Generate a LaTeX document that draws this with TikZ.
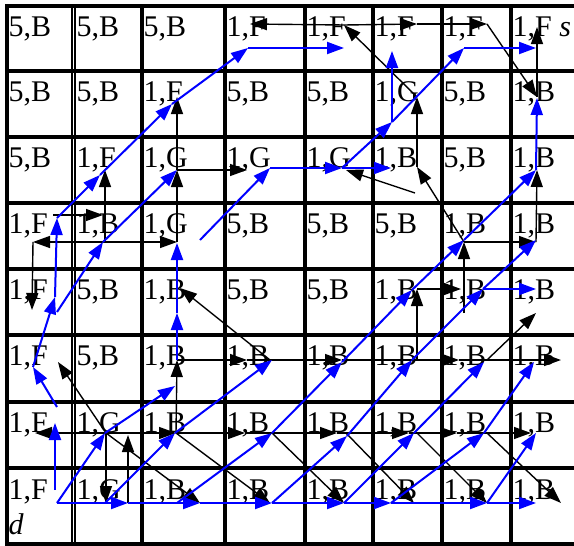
\documentclass[tikz,border=0pt]{standalone}
\usepackage{fontspec}
\setmainfont{Liberation Serif}
\usetikzlibrary{arrows.meta}

\begin{document}
\begin{tikzpicture}[x=1pt,y=-1pt,
  lab/.style={anchor=base west,inner sep=0pt,font=\fontsize{30}{30}\selectfont},
  gridline/.style={line width=4pt},
  kar/.style={-{Triangle[length=17pt,width=12pt]},line width=1.4pt},
  bar/.style={-{Triangle[length=17pt,width=12pt]},line width=2pt,blue}]
\useasboundingbox (0,0) rectangle (574,546);
% grid
\draw[gridline] (5,6) -- (574,6);
\draw[gridline] (5,71) -- (574,71);
\draw[gridline] (5,137) -- (574,137);
\draw[gridline] (5,203) -- (574,203);
\draw[gridline] (5,269) -- (574,269);
\draw[gridline] (5,335) -- (574,335);
\draw[gridline] (5,402) -- (574,402);
\draw[gridline] (5,468) -- (574,468);
\draw[gridline] (5,544) -- (574,544);
\draw[gridline] (7,4) -- (7,546);
\draw[gridline] (142,4) -- (142,546);
\draw[gridline] (225,4) -- (225,546);
\draw[gridline] (305,4) -- (305,546);
\draw[gridline] (373,4) -- (373,546);
\draw[gridline] (442,4) -- (442,546);
\draw[gridline] (511,4) -- (511,546);
\draw[line width=2pt] (71.7,4) -- (71.7,546);
\draw[line width=2pt] (75,4) -- (75,546);

% row 0
\node[lab] at (8.5,36.5) (n00) {5,B};
\node[lab] at (76.5,36.5) (n01) {5,B};
\node[lab] at (143.5,36.5) (n02) {5,B};
\node[lab] at (226.5,36.5) (n03) {1,F};
\node[lab] at (306.5,36.5) (n04) {1,F};
\node[lab] at (374.5,36.5) (n05) {1,F};
\node[lab] at (443.5,36.5) (n06) {1,F};
\node[lab] at (512.5,36.5) (n07) {1,F \textit{s}};
% row 1
\node[lab] at (8.5,101.5) (n10) {5,B};
\node[lab] at (76.5,101.5) (n11) {5,B};
\node[lab] at (143.5,101.5) (n12) {1,F};
\node[lab] at (226.5,101.5) (n13) {5,B};
\node[lab] at (306.5,101.5) (n14) {5,B};
\node[lab] at (374.5,101.5) (n15) {1,G};
\node[lab] at (443.5,101.5) (n16) {5,B};
\node[lab] at (512.5,101.5) (n17) {1,B};
% row 2
\node[lab] at (8.5,167.5) (n20) {5,B};
\node[lab] at (76.5,167.5) (n21) {1,F};
\node[lab] at (143.5,167.5) (n22) {1,G};
\node[lab] at (226.5,167.5) (n23) {1,G};
\node[lab] at (306.5,167.5) (n24) {1,G};
\node[lab] at (374.5,167.5) (n25) {1,B};
\node[lab] at (443.5,167.5) (n26) {5,B};
\node[lab] at (512.5,167.5) (n27) {1,B};
% row 3
\node[lab] at (8.5,233.5) (n30) {1,F};
\node[lab] at (76.5,233.5) (n31) {1,B};
\node[lab] at (143.5,233.5) (n32) {1,G};
\node[lab] at (226.5,233.5) (n33) {5,B};
\node[lab] at (306.5,233.5) (n34) {5,B};
\node[lab] at (374.5,233.5) (n35) {5,B};
\node[lab] at (443.5,233.5) (n36) {1,B};
\node[lab] at (512.5,233.5) (n37) {1,B};
% row 4
\node[lab] at (8.5,299.5) (n40) {1,F};
\node[lab] at (76.5,299.5) (n41) {5,B};
\node[lab] at (143.5,299.5) (n42) {1,B};
\node[lab] at (226.5,299.5) (n43) {5,B};
\node[lab] at (306.5,299.5) (n44) {5,B};
\node[lab] at (374.5,299.5) (n45) {1,B};
\node[lab] at (443.5,299.5) (n46) {1,B};
\node[lab] at (512.5,299.5) (n47) {1,B};
% row 5
\node[lab] at (8.5,365.5) (n50) {1,F};
\node[lab] at (76.5,365.5) (n51) {5,B};
\node[lab] at (143.5,365.5) (n52) {1,B};
\node[lab] at (226.5,365.5) (n53) {1,B};
\node[lab] at (306.5,365.5) (n54) {1,B};
\node[lab] at (374.5,365.5) (n55) {1,B};
\node[lab] at (443.5,365.5) (n56) {1,B};
\node[lab] at (512.5,365.5) (n57) {1,B};
% row 6
\node[lab] at (8.5,432) (n60) {1,F};
\node[lab] at (76.5,432) (n61) {1,G};
\node[lab] at (143.5,432) (n62) {1,B};
\node[lab] at (226.5,432) (n63) {1,B};
\node[lab] at (306.5,432) (n64) {1,B};
\node[lab] at (374.5,432) (n65) {1,B};
\node[lab] at (443.5,432) (n66) {1,B};
\node[lab] at (512.5,432) (n67) {1,B};
% row 7
\node[lab] at (8.5,499) (n70) {1,F};
\node[lab] at (76.5,499) (n71) {1,G};
\node[lab] at (143.5,499) (n72) {1,B};
\node[lab] at (226.5,499) (n73) {1,B};
\node[lab] at (306.5,499) (n74) {1,B};
\node[lab] at (374.5,499) (n75) {1,B};
\node[lab] at (443.5,499) (n76) {1,B};
\node[lab] at (512.5,499) (n77) {1,B};
\node[lab] at (8.5,534) (dd) {\textit{d}};

% black points
\coordinate (k03) at (250,24);
\coordinate (k04) at (344,25);
\coordinate (k05) at (417,24);
\coordinate (k06) at (487,24);
\coordinate (k07) at (537,27);
\coordinate (k12) at (177,97);
\coordinate (k15) at (417,97);
\coordinate (k17) at (537,97);
\coordinate (k21) at (105,170);
\coordinate (k22) at (177,170);
\coordinate (k23) at (247,170);
\coordinate (k24) at (346,170);
\coordinate (k25) at (417,167);
\coordinate (k25a) at (415,193);
\coordinate (k27) at (537,170);
\coordinate (k30) at (53,215);
\coordinate (k30a) at (33,242);
\coordinate (k31) at (103,215);
\coordinate (k31a) at (105,242);
\coordinate (k32) at (177,242);
\coordinate (k36) at (464,242);
\coordinate (k37) at (536,242);
\coordinate (k40) at (32,310);
\coordinate (k42) at (180,288);
\coordinate (k45) at (417,289);
\coordinate (k46) at (461,289);
\coordinate (k46a) at (464,313);
\coordinate (k47) at (536,313);
\coordinate (k50) at (58,362);
\coordinate (k52) at (177,360);
\coordinate (k53) at (247,360);
\coordinate (k53a) at (270,360);
\coordinate (k54) at (342,360);
\coordinate (k55) at (417,360);
\coordinate (k56) at (459,360);
\coordinate (k56a) at (487,360);
\coordinate (k57) at (561,360);
\coordinate (k60) at (35,433);
\coordinate (k61) at (106,433);
\coordinate (k61a) at (128,435);
\coordinate (k62) at (176,433);
\coordinate (k63) at (245,433);
\coordinate (k63a) at (272,433);
\coordinate (k64) at (337,433);
\coordinate (k64a) at (346,433);
\coordinate (k65) at (409,433);
\coordinate (k65a) at (417,433);
\coordinate (k66) at (457,433);
\coordinate (k66a) at (487,433);
\coordinate (k67) at (531,433);
\coordinate (k71) at (106,503);
\coordinate (k71a) at (128,503);
\coordinate (k72) at (200,503);
\coordinate (k73) at (270,503);
\coordinate (k74) at (344,503);
\coordinate (k75) at (414,503);
\coordinate (k76) at (487,503);
\coordinate (k77) at (561,503);

% blue points
\coordinate (b03) at (248,48);
\coordinate (b04) at (344,48);
\coordinate (b05) at (392,51);
\coordinate (b06) at (464,48);
\coordinate (b07) at (536,48);
\coordinate (b12) at (172,104);
\coordinate (b15) at (392,122);
\coordinate (b17) at (537,98);
\coordinate (b21) at (100,175);
\coordinate (b22) at (177,170);
\coordinate (b23) at (270,168);
\coordinate (b24) at (342,168);
\coordinate (b25) at (391,168);
\coordinate (b27) at (536,170);
\coordinate (b30) at (57,218);
\coordinate (b31) at (103,242);
\coordinate (b32) at (177,243);
\coordinate (b32a) at (200,240);
\coordinate (b36) at (464,240);
\coordinate (b37) at (536,240);
\coordinate (b40) at (55,297);
\coordinate (b40a) at (57,312);
\coordinate (b42) at (177,313);
\coordinate (b45) at (412,290);
\coordinate (b46) at (483,289);
\coordinate (b47) at (536,289);
\coordinate (b50) at (33,367);
\coordinate (b52) at (175,386);
\coordinate (b52a) at (177,360);
\coordinate (b53) at (272,360);
\coordinate (b54) at (342,362);
\coordinate (b55) at (412,360);
\coordinate (b56) at (484,362);
\coordinate (b57) at (534,362);
\coordinate (b60) at (55,423);
\coordinate (b60a) at (57,407);
\coordinate (b61) at (105,433);
\coordinate (b62) at (175,433);
\coordinate (b63) at (272,433);
\coordinate (b64) at (347,436);
\coordinate (b65) at (414,433);
\coordinate (b66) at (484,433);
\coordinate (b67) at (536,433);
\coordinate (b70) at (57,503);
\coordinate (b70a) at (55,490);
\coordinate (b71) at (128,503);
\coordinate (b71a) at (105,503);
\coordinate (b72) at (200,503);
\coordinate (b72a) at (177,503);
\coordinate (b73) at (272,503);
\coordinate (b74) at (344,503);
\coordinate (b75) at (391,503);
\coordinate (b76) at (487,503);
\coordinate (b77) at (536,503);

% black arrows
\draw[kar] (k04) -- (k03);
\draw[kar] (k04) -- (k05);
\draw[kar] (k05) -- (k06);
\draw[kar] (k06) -- (k17);
\draw[kar] (k17) -- (k07);
\draw[kar] (k15) -- (k04);
\draw[kar] (k25) -- (k15);
\draw[kar] (k36) -- (k25);
\draw[kar] (k25a) -- (k24);
\draw[kar] (k22) -- (k12);
\draw[kar] (k22) -- (k23);
\draw[kar] (k32) -- (k22);
\draw[kar] (k31a) -- (k32);
\draw[kar] (k31a) -- (k30a);
\draw[kar] (k31a) -- (k21);
\draw[kar] (k30) -- (k31);
\draw[kar] (k30a) -- (k40);
\draw[kar] (k37) -- (k27);
\draw[kar] (k36) -- (k37);
\draw[kar] (k46a) -- (k36);
\draw[kar] (k45) -- (k46);
\draw[kar] (k55) -- (k45);
\draw[kar] (k53a) -- (k42);
\draw[kar] (k52) -- (k53);
\draw[kar] (k53) -- (k54);
\draw[kar] (k54) -- (k56);
\draw[kar] (k56) -- (k57);
\draw[kar] (k56a) -- (k47);
\draw[kar] (k62) -- (k52);
\draw[kar] (k61) -- (k50);
\draw[kar] (k61) -- (k60);
\draw[kar] (k61) -- (k62);
\draw[kar] (k62) -- (k63);
\draw[kar] (k63) -- (k64);
\draw[kar] (k64) -- (k65);
\draw[kar] (k65) -- (k66);
\draw[kar] (k66) -- (k67);
\draw[kar] (k61) -- (k71);
\draw[kar] (k71a) -- (k61a);
\draw[kar] (k61) -- (k72);
\draw[kar] (k62) -- (k73);
\draw[kar] (k63a) -- (k74);
\draw[kar] (k64a) -- (k75);
\draw[kar] (k65a) -- (k76);
\draw[kar] (k66a) -- (k77);

% blue arrows
\draw[bar] (b70) -- (b71);
\draw[bar] (b71) -- (b72);
\draw[bar] (b72) -- (b73);
\draw[bar] (b73) -- (b74);
\draw[bar] (b74) -- (b75);
\draw[bar] (b75) -- (b76);
\draw[bar] (b76) -- (b77);
\draw[bar] (b70a) -- (b60);
\draw[bar] (b60a) -- (b50);
\draw[bar] (b50) -- (b40);
\draw[bar] (b40) -- (b30);
\draw[bar] (b30) -- (b21);
\draw[bar] (b21) -- (b12);
\draw[bar] (b12) -- (b03);
\draw[bar] (b03) -- (b04);
\draw[bar] (b40a) -- (b31);
\draw[bar] (b31) -- (b22);
\draw[bar] (b52a) -- (b42);
\draw[bar] (b42) -- (b32);
\draw[bar] (b32a) -- (b23);
\draw[bar] (b23) -- (b24);
\draw[bar] (b24) -- (b25);
\draw[bar] (b24) -- (b15);
\draw[bar] (b15) -- (b05);
\draw[bar] (b15) -- (b06);
\draw[bar] (b06) -- (b07);
\draw[bar] (b70) -- (b61);
\draw[bar] (b61) -- (b52);
\draw[bar] (b71a) -- (b62);
\draw[bar] (b62) -- (b53);
\draw[bar] (b72a) -- (b63);
\draw[bar] (b63) -- (b54);
\draw[bar] (b54) -- (b45);
\draw[bar] (b45) -- (b36);
\draw[bar] (b36) -- (b27);
\draw[bar] (b27) -- (b17);
\draw[bar] (b73) -- (b64);
\draw[bar] (b64) -- (b55);
\draw[bar] (b55) -- (b46);
\draw[bar] (b46) -- (b37);
\draw[bar] (b74) -- (b65);
\draw[bar] (b65) -- (b56);
\draw[bar] (b75) -- (b66);
\draw[bar] (b66) -- (b57);
\draw[bar] (b76) -- (b67);
\draw[bar] (b46) -- (b47);
\end{tikzpicture}
\end{document}
